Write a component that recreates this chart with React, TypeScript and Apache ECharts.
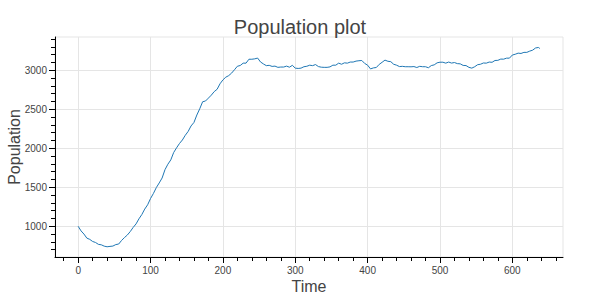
import React, { useEffect, useRef } from 'react';
import * as echarts from 'echarts';

const times = [
  0, 4, 8, 12, 16, 20, 24, 28, 32, 36, 40, 44, 48, 52, 56, 60, 64, 68, 72, 76,
  80, 84, 88, 92, 96, 100, 104, 108, 112, 116, 120, 124, 128, 132, 136, 140, 144, 148, 152, 156,
  160, 164, 168, 172, 176, 180, 184, 188, 192, 196, 200, 204, 208, 212, 216, 220, 224, 228, 232, 236,
  240, 244, 248, 252, 256, 260, 264, 268, 272, 276, 280, 284, 288, 292, 296, 300, 304, 308, 312, 316,
  320, 324, 328, 332, 336, 340, 344, 348, 352, 356, 360, 364, 368, 372, 376, 380, 384, 388, 392, 396,
  400, 404, 408, 412, 416, 420, 424, 428, 432, 436, 440, 444, 448, 452, 456, 460, 464, 468, 472, 476,
  480, 484, 488, 492, 496, 500, 504, 508, 512, 516, 520, 524, 528, 532, 536, 540, 544, 548, 552, 556,
  560, 564, 568, 572, 576, 580, 584, 588, 592, 596, 600, 604, 608, 612, 616, 620, 624, 628, 632, 636, 638,
];

const population = [
  1000, 940, 900, 848, 832, 805, 792, 768, 762, 745, 737, 742, 746, 765, 772, 818, 855, 888, 932, 985,
  1030, 1095, 1150, 1220, 1275, 1355, 1420, 1495, 1555, 1618, 1725, 1795, 1850, 1945, 2005, 2060, 2105, 2165, 2215, 2285,
  2330, 2425, 2505, 2595, 2605, 2642, 2680, 2725, 2755, 2825, 2875, 2910, 2930, 2962, 3005, 3050, 3060, 3090, 3090, 3140,
  3140, 3145, 3155, 3105, 3080, 3058, 3062, 3048, 3052, 3036, 3040, 3040, 3052, 3038, 3062, 3026, 3022, 3026, 3044, 3050,
  3064, 3058, 3072, 3046, 3038, 3036, 3036, 3042, 3064, 3064, 3090, 3076, 3094, 3090, 3104, 3104, 3116, 3121, 3124, 3086,
  3064, 3016, 3029, 3034, 3074, 3101, 3129, 3114, 3109, 3076, 3064, 3046, 3049, 3044, 3044, 3043, 3046, 3034, 3049, 3044,
  3044, 3031, 3059, 3068, 3094, 3102, 3102, 3090, 3104, 3091, 3098, 3084, 3081, 3061, 3059, 3036, 3026, 3044, 3070, 3076,
  3092, 3090, 3104, 3101, 3124, 3126, 3142, 3141, 3154, 3154, 3194, 3204, 3218, 3214, 3228, 3228, 3244, 3256, 3284, 3291, 3278,
];

const xMajorTicks = [0, 100, 200, 300, 400, 500, 600];
const xMinorTicks = [
  -20, 20, 40, 60, 80, 120, 140, 160, 180, 220, 240, 260, 280, 320, 340, 360, 380,
  420, 440, 460, 480, 520, 540, 560, 580, 620, 640, 660,
];
const yMajorTicks = [1000, 1500, 2000, 2500, 3000];
const yMinorTicks = [
  700, 800, 900, 1100, 1200, 1300, 1400, 1600, 1700, 1800, 1900, 2100, 2200, 2300, 2400,
  2600, 2700, 2800, 2900, 3100, 3200, 3300, 3400,
];

const FONT = 'Liberation Sans, Arial, Helvetica, sans-serif';
const X_MIN = -32;
const X_MAX = 670;
const Y_MIN = 606;
const Y_MAX = 3425;

export default function App() {
  const ref = useRef<HTMLDivElement>(null);
  useEffect(() => {
    if (!ref.current) return;
    const chart = echarts.init(ref.current, null, { renderer: 'svg' });
    const axisColor = '#000';
    const plain = (v: number) => String(v);
    chart.setOption({
      animation: false,
      textStyle: { fontFamily: FONT },
      title: {
        text: 'Population plot',
        left: 'center',
        top: 12,
        textStyle: { fontSize: 20, fontWeight: 'normal', color: '#444', fontFamily: FONT },
      },
      grid: {
        left: 55,
        right: 37,
        top: 37,
        bottom: 43,
        show: true,
        borderColor: '#e5e5e5',
        borderWidth: 1,
        containLabel: false,
        outerBoundsMode: 'none',
      },
      xAxis: [
        {
          type: 'value',
          min: X_MIN,
          max: X_MAX,
          position: 'bottom',
          name: 'Time',
          nameLocation: 'middle',
          nameGap: 21,
          nameMoveOverlap: false,
          nameTextStyle: { fontSize: 16, color: '#444', fontFamily: FONT },
          axisLine: { show: true, onZero: false, lineStyle: { color: axisColor, width: 1 } },
          axisTick: { show: true, inside: false, length: 6, customValues: xMajorTicks, lineStyle: { color: axisColor } },
          axisLabel: { customValues: xMajorTicks, formatter: plain, fontSize: 10, color: '#444', margin: 8, fontFamily: FONT },
          splitLine: { show: true, lineStyle: { color: '#e5e5e5', width: 1 } },
        },
        {
          type: 'value',
          min: X_MIN,
          max: X_MAX,
          position: 'bottom',
          axisLine: { show: false, onZero: false },
          axisTick: { show: true, inside: false, length: 4, customValues: xMinorTicks, lineStyle: { color: axisColor } },
          axisLabel: { show: false },
          splitLine: { show: false },
        },
      ],
      yAxis: [
        {
          type: 'value',
          min: Y_MIN,
          max: Y_MAX,
          position: 'left',
          name: 'Population',
          nameLocation: 'middle',
          nameGap: 33,
          nameMoveOverlap: false,
          nameTextStyle: { fontSize: 16, color: '#444', fontFamily: FONT },
          axisLine: { show: true, onZero: false, lineStyle: { color: axisColor, width: 1 } },
          axisTick: { show: true, inside: false, length: 6, customValues: yMajorTicks, lineStyle: { color: axisColor } },
          axisLabel: { customValues: yMajorTicks, formatter: plain, fontSize: 10, color: '#444', margin: 8, fontFamily: FONT },
          splitLine: { show: true, lineStyle: { color: '#e5e5e5', width: 1 } },
        },
        {
          type: 'value',
          min: Y_MIN,
          max: Y_MAX,
          position: 'left',
          axisLine: { show: false, onZero: false },
          axisTick: { show: true, inside: false, length: 4, customValues: yMinorTicks, lineStyle: { color: axisColor } },
          axisLabel: { show: false },
          splitLine: { show: false },
        },
      ],
      series: [
        {
          type: 'line',
          xAxisIndex: 0,
          yAxisIndex: 0,
          data: times.map((t, i) => [t, population[i]]),
          symbol: 'none',
          showSymbol: false,
          lineStyle: { color: '#1f77b4', width: 1 },
          itemStyle: { color: '#1f77b4' },
        },
      ],
    });
    return () => chart.dispose();
  }, []);
  return (
    <div
      ref={ref}
      style={{ position: 'fixed', left: 0, top: 0, width: 600, height: 300, background: '#fff' }}
    />
  );
}
